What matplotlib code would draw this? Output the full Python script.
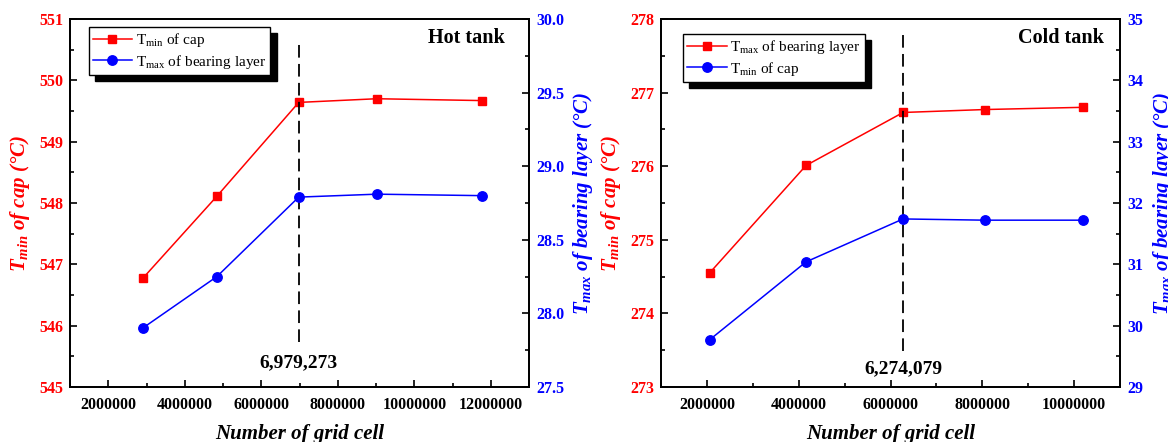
import numpy as np
import matplotlib.pyplot as plt
from matplotlib.ticker import MultipleLocator, StrMethodFormatter

plt.rcParams['font.family'] = ['Liberation Serif', 'DejaVu Serif']
plt.rcParams['font.weight'] = 'bold'
plt.rcParams['axes.labelweight'] = 'bold'
plt.rcParams['mathtext.fontset'] = 'custom'
plt.rcParams['mathtext.rm'] = 'Liberation Serif:style=normal:weight=normal'
plt.rcParams['mathtext.it'] = 'Liberation Serif:style=italic:weight=bold'
plt.rcParams['mathtext.bf'] = 'Liberation Serif:weight=bold'

RED = '#ff0000'
BLUE = '#0000ff'

# hot tank
hot_cells = [2900000, 4840000, 6979273, 9020000, 11760000]
hot_cap_tmin = [546.77, 548.11, 549.64, 549.70, 549.67]
hot_layer_tmax = [27.90, 28.25, 28.79, 28.81, 28.80]
hot_pick = 6979273
hot_dash = (545.73, 550.62)

# cold tank
cold_cells = [2060000, 4160000, 6274079, 8060000, 10190000]
cold_red = [274.55, 276.01, 276.73, 276.77, 276.80]
cold_blue = [29.77, 31.04, 31.74, 31.72, 31.72]
cold_pick = 6274079
cold_dash = (273.49, 277.81)

W, H = 1168, 442
fig = plt.figure(figsize=(W / 100, H / 100), dpi=100)


def panel(left_px, x, yl, yr, lab_red, lab_blue, xlim, yl_lim, yr_lim, yr_step, yr_fmt,
          pick, dash, pick_y, title, title_x, leg_xy, rlab_x):
    ax = fig.add_axes([left_px / W, 55 / H, 459 / W, 368 / H])
    ax2 = ax.twinx()
    l1, = ax.plot(x, yl, color=RED, marker='s', ms=6, lw=1.1, label=lab_red)
    l2, = ax2.plot(x, yr, color=BLUE, marker='o', ms=6.8, lw=1.1, label=lab_blue)
    ax.vlines(pick, dash[0], dash[1], color='black', lw=1.3, linestyles=(0, (7, 3.5)))
    ax.text(pick, pick_y, f'{pick:,}', ha='center', va='center', fontsize=14,
            fontweight='bold')

    ax.set_xlim(*xlim)
    ax.set_ylim(*yl_lim)
    ax2.set_ylim(*yr_lim)
    ax.xaxis.set_major_locator(MultipleLocator(2000000))
    ax.xaxis.set_minor_locator(MultipleLocator(1000000))
    ax.xaxis.set_major_formatter(StrMethodFormatter('{x:.0f}'))
    ax.yaxis.set_major_locator(MultipleLocator(1))
    ax.yaxis.set_minor_locator(MultipleLocator(0.5))
    ax.yaxis.set_major_formatter(StrMethodFormatter('{x:.0f}'))
    ax2.yaxis.set_major_locator(MultipleLocator(yr_step))
    ax2.yaxis.set_minor_locator(MultipleLocator(yr_step / 2))
    ax2.yaxis.set_major_formatter(StrMethodFormatter(yr_fmt))

    for a in (ax, ax2):
        for s in a.spines.values():
            s.set_linewidth(1.3)
        a.tick_params(which='both', direction='in', width=1.2, labelsize=11.5, pad=5)
        a.tick_params(which='major', length=5)
        a.tick_params(which='minor', length=3)
    ax.tick_params(axis='x', pad=7)
    ax.tick_params(axis='y', labelcolor=RED)
    ax2.tick_params(axis='y', labelcolor=BLUE)

    ax.set_xlabel('Number of grid cell', fontsize=15, fontstyle='italic',
                  fontweight='bold')
    ax.xaxis.set_label_coords(0.5, -0.1)
    ax.set_ylabel(r'T$_{min}$ of cap (°C)', fontsize=15, fontstyle='italic',
                  fontweight='bold', color=RED)
    ax.yaxis.set_label_coords(-0.083, 0.5)
    ax2.set_ylabel(r'T$_{max}$ of bearing layer (°C)', fontsize=15, fontstyle='italic',
                   fontweight='bold', color=BLUE)
    ax2.yaxis.set_label_coords(rlab_x, 0.5)

    ax2.text(title_x, 0.948, title, transform=ax.transAxes, ha='right', va='center',
             fontsize=14.5, fontweight='bold')
    leg = ax2.legend(handles=[l1, l2], loc='upper left', bbox_to_anchor=leg_xy,
                     borderaxespad=0, fancybox=False, framealpha=1, edgecolor='black',
                     prop={'size': 11, 'weight': 'normal'}, handlelength=2.6,
                     handletextpad=0.25, borderpad=0.25, labelspacing=0.25,
                     shadow={'ox': 4.5, 'oy': -4.5, 'facecolor': 'black',
                             'edgecolor': 'black', 'alpha': 1})
    leg.get_frame().set_linewidth(1.0)
    return ax


panel(70, hot_cells, hot_cap_tmin, hot_layer_tmax,
      r'T$_{\mathrm{min}}$ of cap', r'T$_{\mathrm{max}}$ of bearing layer',
      (1000000, 13000000), (545, 551), (27.5, 30.0), 0.5, '{x:.1f}',
      hot_pick, hot_dash, 545.39, 'Hot tank', 0.948, (0.041, 0.978), 1.0915)

panel(661, cold_cells, cold_red, cold_blue,
      r'T$_{\mathrm{max}}$ of bearing layer', r'T$_{\mathrm{min}}$ of cap',
      (1000000, 11000000), (273, 278), (29, 35), 1, '{x:.0f}',
      cold_pick, cold_dash, 273.25, 'Cold tank', 0.965, (0.048, 0.959), 1.0675)

fig.savefig('out.png', dpi=100)
